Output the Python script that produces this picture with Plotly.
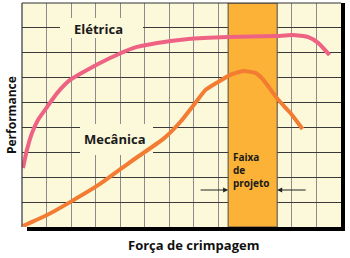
import plotly.graph_objects as go

# Data (x in grid units 0..13, y in grid units 0..9)
eletrica_x = [0.04, 0.2, 0.41, 0.65, 1.02, 1.43, 1.96, 2.65, 3.59, 4.53, 5.51, 6.78, 8.41, 10.33, 11.02, 11.67, 12.08, 12.53]
eletrica_y = [2.37, 3.09, 3.78, 4.30, 4.82, 5.38, 5.91, 6.31, 6.79, 7.19, 7.39, 7.55, 7.63, 7.67, 7.71, 7.63, 7.39, 6.91]
mecanica_x = [0.04, 1.02, 1.96, 3.18, 4.41, 5.76, 6.45, 7.06, 7.47, 8.0, 8.49, 9.02, 9.51, 9.80, 10.45, 10.94, 11.43]
mecanica_y = [0.04, 0.48, 1.00, 1.73, 2.61, 3.54, 4.22, 4.98, 5.50, 5.83, 6.11, 6.27, 6.19, 5.95, 5.10, 4.58, 3.94]
band_range = [8.4, 10.4]
x_range = [0, 13]
y_range = [0, 9]

BG = "#FCF9DA"
FONT = "Open Sans"

fig = go.Figure()
fig.add_trace(go.Scatter(x=eletrica_x, y=eletrica_y, mode="lines",
                         line=dict(color="#EE6283", width=4, shape="spline", smoothing=0.5),
                         hoverinfo="skip", showlegend=False))
fig.add_trace(go.Scatter(x=mecanica_x, y=mecanica_y, mode="lines",
                         line=dict(color="#F37B32", width=4, shape="spline", smoothing=0.5),
                         hoverinfo="skip", showlegend=False))

L, R, T, B = 22, 9, 3, 31
W, H = 350, 258
pw, ph = W - L - R, H - T - B

def px(x):
    return (x - L) / pw

def py(y):
    return (H - B - y) / ph

def dx(x):
    return (x - L) / pw * (x_range[1] - x_range[0]) + x_range[0]

def dy(y):
    return (H - B - y) / ph * (y_range[1] - y_range[0]) + y_range[0]

shapes = []
# design band
shapes.append(dict(type="rect", xref="x", yref="y", x0=band_range[0], x1=band_range[1], y0=y_range[0], y1=y_range[1],
                   fillcolor="#FBB236", line=dict(color="#4a4a4a", width=1), layer="between"))
# label boxes covering grid
shapes.append(dict(type="rect", xref="x", yref="y", x0=dx(60), x1=dx(143), y0=dy(38), y1=dy(18),
                   fillcolor=BG, line=dict(width=0), layer="between"))
shapes.append(dict(type="rect", xref="x", yref="y", x0=dx(80), x1=dx(153), y0=dy(155), y1=dy(124),
                   fillcolor=BG, line=dict(width=0), layer="between"))
# frame
shapes.append(dict(type="line", xref="paper", yref="paper", x0=0, x1=0, y0=0, y1=1, line=dict(color="#333", width=1.2)))
shapes.append(dict(type="line", xref="paper", yref="paper", x0=0, x1=1, y0=1, y1=1, line=dict(color="#333", width=1.2)))
shapes.append(dict(type="line", xref="paper", yref="paper", x0=px(343), x1=px(343), y0=py(231), y1=py(3), line=dict(color="#000", width=4)))
shapes.append(dict(type="line", xref="paper", yref="paper", x0=px(27), x1=px(345), y0=py(229), y1=py(229), line=dict(color="#000", width=4)))

C = dict(xanchor="center", yanchor="middle", showarrow=False)
annotations = [
    dict(xref="paper", yref="paper", x=px(98), y=py(29), text="<b>Elétrica</b>", **C,
         font=dict(family=FONT, size=13, color="#1a1a1a")),
    dict(xref="paper", yref="paper", x=px(115), y=py(139), text="<b>Mecânica</b>", **C,
         font=dict(family=FONT, size=13, color="#1a1a1a")),
    dict(xref="paper", yref="paper", x=px(231), y=py(170), text="<b>Faixa<br>de<br>projeto</b>", showarrow=False,
         xanchor="left", yanchor="middle", align="left", font=dict(family=FONT, size=10, color="#1a1a1a")),
    dict(xref="x", yref="paper", x=band_range[0], y=py(190), ax=-29, ay=0, axref="pixel", ayref="pixel",
         text="", showarrow=True, arrowhead=2, arrowsize=1, arrowwidth=1, arrowcolor="#222"),
    dict(xref="x", yref="paper", x=band_range[1], y=py(190), ax=30, ay=0, axref="pixel", ayref="pixel",
         text="", showarrow=True, arrowhead=2, arrowsize=1, arrowwidth=1, arrowcolor="#222"),
    dict(xref="paper", yref="paper", x=px(193), y=py(245), text="<b>Força de crimpagem</b>", **C,
         font=dict(family=FONT, size=13, color="#111")),
    dict(xref="paper", yref="paper", x=px(11), y=py(115), text="<b>Performance</b>", **C,
         textangle=-90, font=dict(family=FONT, size=12, color="#111")),
]

fig.update_layout(
    width=W, height=H,
    margin=dict(l=L, r=R, t=T, b=B),
    paper_bgcolor="white", plot_bgcolor=BG,
    shapes=shapes, annotations=annotations,
    xaxis=dict(range=x_range, dtick=1, showgrid=True, gridcolor="#8c8c8c", gridwidth=1,
               showticklabels=False, zeroline=False, ticks="", fixedrange=True),
    yaxis=dict(range=y_range, dtick=1, showgrid=True, gridcolor="#3a3a3a", gridwidth=1,
               showticklabels=False, zeroline=False, ticks="", fixedrange=True),
)

fig.write_html("out.html")
